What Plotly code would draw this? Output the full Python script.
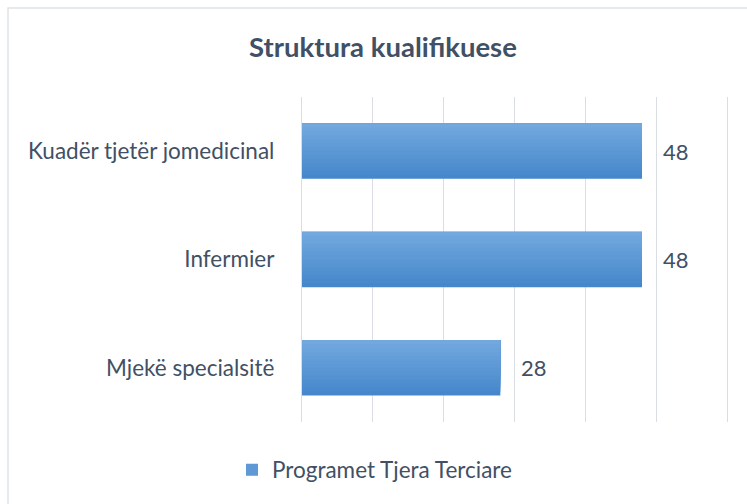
import plotly.graph_objects as go

categories = ["Mjekë specialsitë", "Infermier", "Kuadër tjetër jomedicinal"]
values = [28, 48, 48]
series_name = "Programet Tjera Terciare"
title_text = "Struktura kualifikuese"

FONT = "Lato"
TXT = "#415064"
GRID = "#dadee4"

# vertical gradient of the bars (bottom -> top)
grad_bottom = (70, 135, 203)
grad_top = (114, 168, 222)
N = 14
BAR_W = 0.51

fig = go.Figure()
for i in range(N):
    t = i / (N - 1)
    col = tuple(round(grad_bottom[k] + (grad_top[k] - grad_bottom[k]) * t) for k in range(3))
    is_leg = (i == N // 2)
    off = -BAR_W / 2 + i * BAR_W / N
    fig.add_trace(go.Bar(
        x=values, y=categories, orientation="h", name=series_name,
        width=BAR_W / 2 - off, offset=off,
        marker=dict(color="rgb(%d,%d,%d)" % col, line=dict(width=0)),
        showlegend=is_leg, hoverinfo="x+y",
    ))

for v, c in zip(values, categories):
    fig.add_annotation(x=v, y=c, text=str(v), showarrow=False,
                       xanchor="left", xshift=19,
                       font=dict(family=FONT, size=22, color=TXT))

L, T, R, B = 302, 97, 20, 82
W, H = 747, 504
pw, ph = W - L - R, H - T - B
def px(x): return (x - L) / pw
def py(y): return (H - B - y) / ph

fig.add_shape(type="rect", xref="paper", yref="paper",
              x0=px(8), x1=px(770), y0=py(8), y1=py(530),
              line=dict(color="#dfe3e8", width=1.5), layer="below")

fig.update_layout(
    width=W, height=H,
    margin=dict(l=L, r=R, t=T, b=B),
    paper_bgcolor="white", plot_bgcolor="white",
    barmode="overlay",
    font=dict(family=FONT, color=TXT, size=22),
    title=dict(text="<b>" + title_text + "</b>", x=383 / W, xanchor="center",
               y=1 - 47 / H, yanchor="middle",
               font=dict(family=FONT, size=27.5, color=TXT)),
    legend=dict(orientation="h", x=px(232), xanchor="left",
                y=py(470), yanchor="middle",
                font=dict(family=FONT, size=22.5, color=TXT),
                itemwidth=30),
    xaxis=dict(range=[0, 60], dtick=10, tick0=0, showgrid=True, gridcolor=GRID,
               gridwidth=1.2, zeroline=False, showticklabels=False,
               showline=False),
    yaxis=dict(showgrid=False, zeroline=False, showline=True, mirror=True,
               linecolor=GRID, linewidth=1.2,
               ticklabelstandoff=22, tickfont=dict(family=FONT, size=22.5, color=TXT)),
)

fig.write_html("out.html", config={"displayModeBar": False},
               post_script="document.body.style.margin='0px';document.body.style.overflow='hidden';")
